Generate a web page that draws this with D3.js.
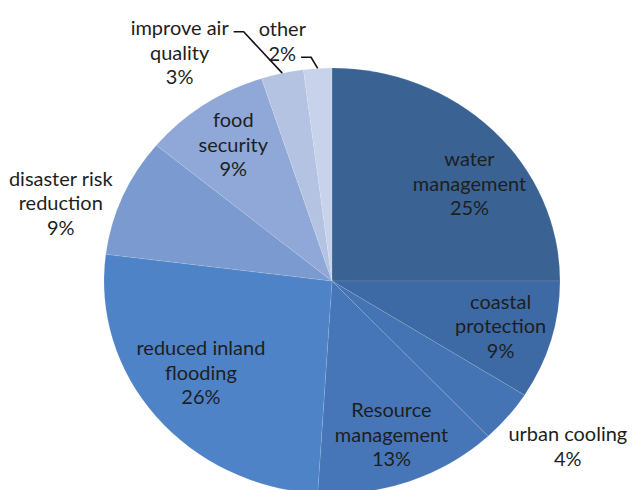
<!DOCTYPE html>
<html lang="en">
<meta charset="utf-8">
<title>Adaptation benefits pie</title>
<script src="https://cdn.jsdelivr.net/npm/d3@7/dist/d3.min.js"></script>
<style>
  body { margin: 0; background: #fff; }
  svg text { font-family: Lato, "Open Sans", sans-serif; fill: #1e1e1e; }
</style>
<body>
<svg width="632" height="490"></svg>
<script>
// data, clockwise from 12 o'clock
var names = [
  ["water", "management"],
  ["coastal", "protection"],
  ["urban cooling"],
  ["Resource", "management"],
  ["reduced inland", "flooding"],
  ["disaster risk", "reduction"],
  ["food", "security"],
  ["improve air", "quality"],
  ["other"]
];
var shares = [25, 9, 4, 13, 26, 9, 9, 3, 2];
var colors = ["#3a6394", "#3d6aa4", "#4474b4", "#4676b7", "#4f83c7",
              "#7a9ad0", "#8fa8d7", "#b4c3e2", "#c8d2ea"];

// label placement: [angle in degrees, radius as fraction of pie], null = slice middle
var labelAt = [[53, 0.755], null, [127, 1.295], null, [233, 0.72],
               [287, 1.244], null, [328, 1.261], [349, 1.143]];
// which text line a leader line starts from (-1 = none)
var leaderLine = [-1, -1, -1, -1, -1, -1, -1, 0, 1];

var svg = d3.select("svg");
var cx = 332, cy = 281, rx = 228, ry = 213;
var lineH = 24.5, stretch = 1.08;

var pie = d3.pie().sort(null).value(function(d) { return d; });
var arcs = pie(shares);
var arc = d3.arc().innerRadius(0).outerRadius(rx);

var g = svg.append("g")
    .attr("transform", "translate(" + cx + "," + cy + ") scale(1," + (ry / rx) + ")");

g.selectAll("path")
  .data(arcs)
  .enter().append("path")
    .attr("d", arc)
    .attr("fill", function(d, i) { return colors[i]; })
    .attr("stroke", "rgba(255,255,255,0.18)")
    .attr("stroke-width", 0.6);

function pt(angle, r) {
  return [cx + rx * r * Math.sin(angle), cy - ry * r * Math.cos(angle)];
}

var labels = svg.append("g").attr("font-size", 18.5).attr("text-anchor", "middle");

arcs.forEach(function(d, i) {
  var a, r;
  if (labelAt[i]) { a = labelAt[i][0] * Math.PI / 180; r = labelAt[i][1]; }
  else { a = (d.startAngle + d.endAngle) / 2; r = 0.77; }
  var p = pt(a, r);
  var lines = names[i].concat([shares[i] + "%"]);
  var top = -(lines.length - 1) * lineH / 2;
  var t = labels.append("g")
      .attr("transform", "translate(" + p[0] + "," + p[1] + ") scale(" + stretch + ",1)")
    .append("text");
  lines.forEach(function(s, k) {
    t.append("tspan")
      .attr("x", 0)
      .attr("y", top + k * lineH)
      .attr("dy", "0.35em")
      .text(s);
  });

  if (leaderLine[i] >= 0) {
    var k = leaderLine[i];
    var span = t.selectAll("tspan").nodes()[k];
    var w = span.getComputedTextLength() * stretch;
    var x0 = p[0] + w / 2 + 5;
    var y0 = p[1] + top + k * lineH + 3;
    var mid = (d.startAngle + d.endAngle) / 2;
    var e = pt(mid, 1.0);
    svg.append("path")
      .attr("d", d3.line()([[x0, y0], [x0 + 10, y0], e]))
      .attr("fill", "none")
      .attr("stroke", "#111")
      .attr("stroke-width", 1.6);
  }
});
</script>
</body>
</html>
